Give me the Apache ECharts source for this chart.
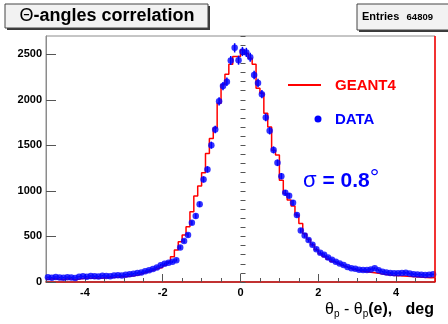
<!DOCTYPE html>
<html>
<head>
<meta charset="utf-8">
<title>Θ-angles correlation</title>
<script src="https://cdn.jsdelivr.net/npm/echarts@6/dist/echarts.min.js"></script>
<style>
html, body { margin: 0; padding: 0; background: #fff; }
#chart { width: 448px; height: 324px; }
</style>
</head>
<body>
<div id="chart"></div>
<script type="text/javascript">
'use strict';
// histogram binning: 100 bins of 0.1 deg from -5 to 5
var binLow = -5, binHigh = 5, binWidth = 0.1;
var geantCounts = [
	30, 35, 32, 28, 30, 35, 30, 28, 35, 40,
	40, 42, 45, 40, 45, 48, 50, 52, 55, 58,
	60, 65, 70, 80, 95, 110, 120, 135, 150, 160,
	185, 220, 277, 351, 442, 515, 606, 771, 943, 1053,
	1199, 1411, 1576, 1689, 1963, 2164, 2281, 2390, 2475, 2475,
	2547, 2511, 2456, 2390, 2127, 2072, 1853, 1700, 1447, 1393,
	1118, 972, 899, 833, 735, 643, 530, 470, 410, 355,
	310, 280, 250, 225, 205, 185, 170, 155, 140, 130,
	122, 115, 110, 105, 100, 92, 85, 80, 75, 72,
	68, 65, 62, 60, 58, 55, 52, 50, 48, 50
];
var dataCounts = [
	52, 48, 55, 50, 47, 53, 50, 45, 58, 62,
	58, 66, 63, 60, 68, 65, 62, 70, 75, 72,
	80, 85, 90, 98, 105, 118, 130, 142, 160, 185,
	200, 212, 222, 240, 380, 450, 515, 650, 724, 852,
	1126, 1236, 1502, 1674, 1983, 2150, 2198, 2432, 2570, 2434,
	2530, 2520, 2467, 2272, 2185, 2061, 1806, 1660, 1450, 1308,
	1162, 979, 946, 870, 735, 565, 510, 460, 410, 360,
	320, 298, 270, 245, 222, 203, 186, 165, 152, 145,
	135, 132, 132, 138, 150, 130, 113, 105, 98, 95,
	97, 100, 102, 92, 86, 82, 80, 77, 80, 84
];
var xTicks = [-4, -2, 0, 2, 4];
var yTicks = [0, 500, 1000, 1500, 2000, 2500];
var yMax = 2700;
var entries = 64809;

var font = '"Liberation Sans", Arial, Helvetica, sans-serif';

// red step histogram: left edge of each bin, plus closing point at the high edge
var geantLine = geantCounts.map(function (v, i) { return [binLow + i * binWidth, v]; });
geantLine.push([binHigh, geantCounts[geantCounts.length - 1]]);
// data points at bin centres, with sqrt(N) errors
var dataPoints = dataCounts.map(function (v, i) { return [binLow + (i + 0.5) * binWidth, v]; });
var dataErrors = dataCounts.map(function (v, i) { return [binLow + (i + 0.5) * binWidth, v, Math.sqrt(v)]; });

var myChart = echarts.init(document.getElementById('chart'), null, { renderer: 'canvas' });
var option = {
	animation: false,
	backgroundColor: '#fff',
	grid: {
		left: 46, right: 13, top: 36, bottom: 42,
		show: true, borderColor: '#8c8c8c', borderWidth: 1, backgroundColor: '#fff'
	},
	xAxis: [{
		type: 'value', min: binLow, max: binHigh, position: 'bottom',
		axisLine: { show: true, onZero: false, lineStyle: { color: '#c00000', width: 1.5 } },
		axisTick: { show: true, inside: true, length: 8, customValues: xTicks, lineStyle: { color: '#555' } },
		axisLabel: { customValues: xTicks, fontSize: 11, fontWeight: 'bold', color: '#000', margin: 5, fontFamily: font,
			formatter: function (v) { return String(v); } },
		splitLine: { show: false }
	}, {
		type: 'value', min: binLow, max: binHigh, interval: 0.5, position: 'bottom',
		axisLine: { show: false },
		axisTick: { show: true, inside: true, length: 4, lineStyle: { color: '#555' } },
		axisLabel: { show: false },
		splitLine: { show: false }
	}],
	yAxis: [{
		type: 'value', min: 0, max: yMax, position: 'left',
		axisLine: { show: true, onZero: false, lineStyle: { color: '#8c8c8c', width: 1 } },
		axisTick: { show: true, inside: true, length: 10, customValues: yTicks, lineStyle: { color: '#555' } },
		axisLabel: { customValues: yTicks, fontSize: 11, fontWeight: 'bold', color: '#000', margin: 4, fontFamily: font,
			formatter: function (v) { return String(v); } },
		splitLine: { show: false }
	}, {
		type: 'value', min: 0, max: yMax, interval: 100, position: 'left',
		axisLine: { show: false },
		axisTick: { show: true, inside: true, length: 5, lineStyle: { color: '#555' } },
		axisLabel: { show: false },
		splitLine: { show: false }
	}],
	series: [{
		name: 'GEANT4',
		type: 'line',
		step: 'end',
		data: geantLine,
		symbol: 'none',
		lineStyle: { color: '#ff0000', width: 1.5 },
		z: 2,
		markLine: {
			silent: true,
			symbol: ['none', 'none'],
			label: { show: false },
			lineStyle: { color: '#ff0000', type: 'solid', width: 1.5 },
			data: [{ xAxis: binHigh }]
		}
	}, {
		name: 'errors',
		type: 'custom',
		data: dataErrors,
		z: 3,
		renderItem: function (params, api) {
			var x = api.value(0), y = api.value(1), e = api.value(2);
			var a = api.coord([x, y + e]);
			var b = api.coord([x, y - e]);
			return {
				type: 'line',
				shape: { x1: a[0], y1: a[1], x2: b[0], y2: b[1] },
				style: { stroke: '#0000ff', lineWidth: 1.5 }
			};
		}
	}, {
		name: 'DATA',
		type: 'scatter',
		data: dataPoints,
		symbol: 'circle',
		symbolSize: 6.5,
		itemStyle: { color: '#0000ff' },
		z: 4
	}],
	graphic: [
		// title box with shadow
		{ type: 'rect', shape: { x: 7, y: 6, width: 203, height: 24 }, style: { fill: '#3a3a3a' }, silent: true },
		{ type: 'rect', shape: { x: 5, y: 4, width: 203, height: 24 }, style: { fill: '#f2f2f2', stroke: '#444', lineWidth: 1 }, silent: true },
		{
			type: 'text', x: 107, y: 16, silent: true,
			style: {
				text: '{t|Θ}{b|-angles correlation}',
				align: 'center', verticalAlign: 'middle',
				rich: {
					t: { fontSize: 18, fontFamily: font, fill: '#000' },
					b: { fontSize: 18, fontWeight: 'bold', fontFamily: font, fill: '#000' }
				}
			}
		},
		// stats box
		{ type: 'rect', shape: { x: 359, y: 6, width: 95, height: 26 }, style: { fill: '#3a3a3a' }, silent: true },
		{ type: 'rect', shape: { x: 357, y: 4, width: 95, height: 26 }, style: { fill: '#f2f2f2', stroke: '#444', lineWidth: 1 }, silent: true },
		{ type: 'text', x: 362, y: 17, silent: true, style: { text: 'Entries', fontSize: 11, fontWeight: 'bold', fontFamily: font, fill: '#000', verticalAlign: 'middle' } },
		{ type: 'text', x: 433, y: 17, silent: true, style: { text: String(entries), fontSize: 9.5, fontWeight: 'bold', fontFamily: font, fill: '#000', align: 'right', verticalAlign: 'middle' } },
		// legend
		{ type: 'line', shape: { x1: 288, y1: 85, x2: 321, y2: 85 }, style: { stroke: '#ff0000', lineWidth: 2 }, silent: true },
		{ type: 'text', x: 335, y: 86, silent: true, style: { text: 'GEANT4', fontSize: 15, fontWeight: 'bold', fontFamily: font, fill: '#ff0000', verticalAlign: 'middle' } },
		{ type: 'circle', shape: { cx: 318, cy: 119, r: 3.5 }, style: { fill: '#0000ff' }, silent: true },
		{ type: 'text', x: 335, y: 120, silent: true, style: { text: 'DATA', fontSize: 15, fontWeight: 'bold', fontFamily: font, fill: '#0000ff', verticalAlign: 'middle' } },
		// sigma annotation
		{
			type: 'text', x: 303, y: 181, silent: true,
			style: {
				text: '{s|σ}{v| = 0.8}{d|°}',
				verticalAlign: 'middle',
				rich: {
					s: { fontSize: 22, fontFamily: font, fill: '#0000ff' },
					v: { fontSize: 21, fontWeight: 'bold', fontFamily: font, fill: '#0000ff' },
					d: { fontSize: 24, fontFamily: font, fill: '#0000ff', padding: [0, 0, 6, 0] }
				}
			}
		},
		// x axis title
		{
			type: 'text', x: 434, y: 310, silent: true,
			style: {
				text: '{a|θ}{s|p}{a| - θ}{s|p}{b|(e),   deg}',
				align: 'right', verticalAlign: 'middle',
				rich: {
					a: { fontSize: 16, fontFamily: font, fill: '#000', height: 20 },
					b: { fontSize: 16, fontWeight: 'bold', fontFamily: font, fill: '#000', height: 20 },
					s: { fontSize: 10, fontFamily: font, fill: '#000', height: 20, verticalAlign: 'bottom', padding: [8, 0, 0, 0] }
				}
			}
		}
	]
};
myChart.setOption(option);
window.onresize = myChart.resize;
</script>
</body>
</html>
